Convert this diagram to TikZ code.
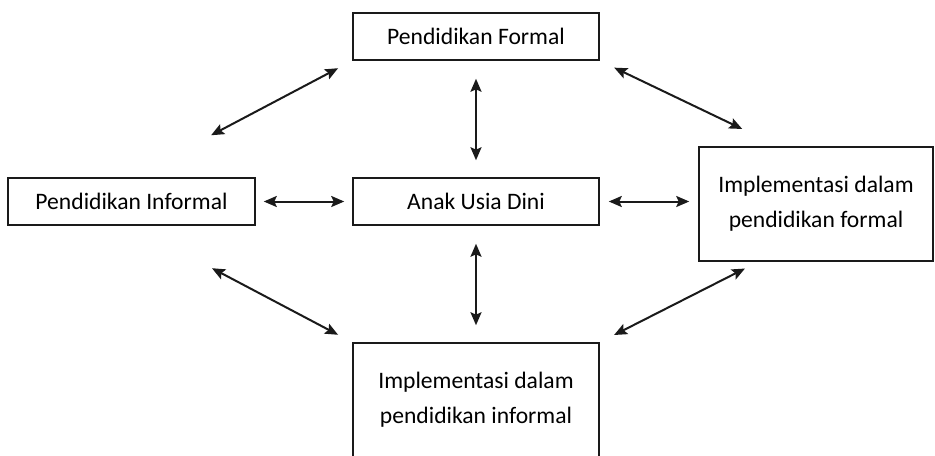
\documentclass[tikz,border=0pt]{standalone}
\usepackage{fontspec}
\setmainfont{Carlito}
\usepackage{tikz}
\usetikzlibrary{arrows.meta,calc}
\definecolor{Ink}{HTML}{1A1A1A}

\tikzset{
  box/.style={draw=Ink, line width=0.75pt, inner sep=0pt, align=center,
    minimum width=123pt, minimum height=23.5pt,
    font=\fontsize{11.8}{17.5}\selectfont},
  link/.style={draw=Ink, line width=1pt,
    {Stealth[length=6.5pt,width=5.5pt,inset=1.2pt]}-{Stealth[length=6.5pt,width=5.5pt,inset=1.2pt]}}
}

\begin{document}
\begin{tikzpicture}[x=0.5pt,y=-0.5pt]
  \clip (0,0) rectangle (935,455);
  % boxes
  \node[box] (formal) at (476,36.5) {Pendidikan Formal};
  \node[box,minimum width=123.5pt] (informal) at (131.5,201.5) {Pendidikan Informal};
  \node[box] (anak) at (476,201.5) {Anak Usia Dini};
  \node[box,minimum width=117pt,minimum height=57pt] (implf) at (816,204)
    {Implementasi dalam\\pendidikan formal};
  \node[box,minimum height=57pt] (implinf) at (476,400)
    {Implementasi dalam\\pendidikan informal};
  % straight links
  \draw[link,shorten <=4pt,shorten >=4pt] (informal) -- (anak);
  \draw[link,shorten <=4.5pt,shorten >=4.5pt] (anak.east) -- (anak.east -| implf.west);
  \draw[link,shorten <=9pt,shorten >=8.5pt] (formal) -- (anak);
  \draw[link,shorten <=9pt,shorten >=8.5pt] (anak) -- (implinf);
  % diagonal links
  \draw[link,shorten <=45pt,shorten >=8pt] (informal.north) -- (formal.south west);
  \draw[link,shorten <=8pt,shorten >=20pt] (formal.south east)
    -- ($(implf.north west)!0.34!(implf.north east)$);
  \draw[link,shorten <=45.5pt,shorten >=8pt] (informal.south) -- (implinf.north west);
  \draw[link,shorten <=8pt,shorten >=7.5pt] (implinf.north east)
    -- ($(implf.south west)!0.255!(implf.south east)$);
\end{tikzpicture}
\end{document}
